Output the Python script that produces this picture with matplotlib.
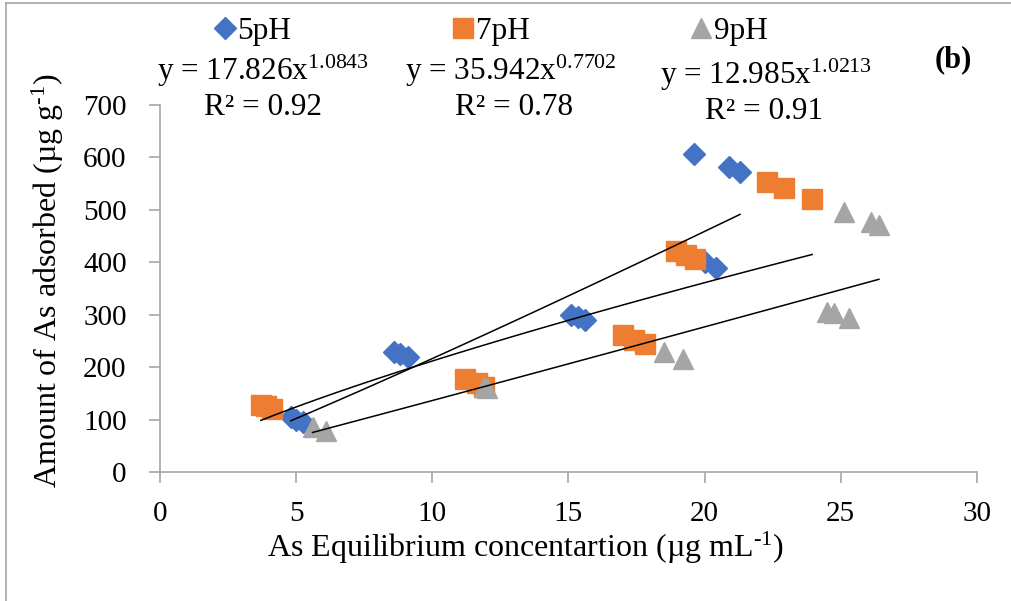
import numpy as np
import matplotlib.pyplot as plt
from matplotlib.lines import Line2D

plt.rcParams['font.family'] = ['Liberation Serif', 'DejaVu Serif']
plt.rcParams['mathtext.fontset'] = 'custom'
plt.rcParams['mathtext.rm'] = 'Liberation Serif'
plt.rcParams['mathtext.it'] = 'Liberation Serif:italic'

# data
x_5 = [4.8, 5.0, 5.25, 8.6, 8.8, 9.1, 15.1, 15.35, 15.6, 19.6, 20.0, 20.4, 20.9, 21.3]
y_5 = [104, 100, 96, 229, 225, 219, 299, 295, 289, 607, 400, 390, 581, 573]
x_7 = [3.7, 3.9, 4.1, 11.2, 11.65, 11.9, 17.0, 17.4, 17.8, 18.95, 19.3, 19.65, 22.3, 22.9, 23.95]
y_7 = [128, 125, 121, 178, 170, 163, 261, 252, 244, 421, 413, 407, 554, 542, 521]
x_9 = [5.6, 6.1, 11.9, 12.0, 18.5, 19.2, 24.5, 24.75, 25.3, 25.1, 26.1, 26.4]
y_9 = [85, 78, 162, 160, 229, 215, 305, 303, 293, 496, 476, 471]

# power trendlines y = a*x^b
fit_a = [17.826, 35.942, 12.985]
fit_b = [1.0843, 0.7702, 1.0213]
eq_text = ['y = 17.826x$^{1.0843}$', 'y = 35.942x$^{0.7702}$', 'y = 12.985x$^{1.0213}$']
r2_text = ['R² = 0.92', 'R² = 0.78', 'R² = 0.91']

colors = ['#4472C4', '#ED7D31', '#A5A5A5']
labels = ['5pH', '7pH', '9pH']
markers = ['D', 's', '^']
sizes = [11, 14, 15]

fig = plt.figure(figsize=(10.11, 6.01), dpi=100)
ax = fig.add_axes([0.1583, 0.2146, 0.808, 0.6107])

xs = [x_5, x_7, x_9]
ys = [y_5, y_7, y_9]
for i in range(3):
    ax.plot(xs[i], ys[i], linestyle='none', marker=markers[i], color=colors[i],
            markersize=sizes[i], label=labels[i], zorder=2)
for i in range(3):
    xx = np.linspace(min(xs[i]), max(xs[i]), 50)
    ax.plot(xx, fit_a[i] * xx ** fit_b[i], color='black', linewidth=1.1, zorder=3)

ax.set_xlim(0, 30)
ax.set_ylim(0, 700)
ax.set_xticks(np.arange(0, 31, 5))
ax.set_yticks(np.arange(0, 701, 100))
for s in ['top', 'right']:
    ax.spines[s].set_visible(False)
for s in ['left', 'bottom']:
    ax.spines[s].set_color('#A6A6A6')
    ax.spines[s].set_linewidth(1.2)
ax.tick_params(axis='both', colors='#A6A6A6', length=8, width=1.2, labelsize=21, labelcolor='black')
ax.tick_params(axis='y', pad=16)
ax.tick_params(axis='x', pad=13)

ax.set_xlabel(r'As Equilibrium concentartion (µg mL$^{\text{-}1}$)', fontsize=23)
ax.set_ylabel(r'Amount of As adsorbed (µg g$^{\text{-}1}$)', fontsize=23)
ax.xaxis.set_label_coords(0.4468, -0.158)
ax.yaxis.set_label_coords(-0.115, 0.52)

leg = fig.legend(loc='center left', bbox_to_anchor=(212.5 / 1011, 0.947), ncol=3, frameon=False,
                 fontsize=22.5, handlelength=0.8, handletextpad=0.0, columnspacing=5.1,
                 borderpad=0, borderaxespad=0)

eq_x = [263, 511, 766]
eq_y = [71, 71, 75]
r2_x = [263, 514, 764]
r2_y = [107, 107, 111]
for i in range(3):
    fig.text(eq_x[i] / 1011, 1 - eq_y[i] / 601, eq_text[i], fontsize=22.5, ha='center', va='center')
    fig.text(r2_x[i] / 1011, 1 - r2_y[i] / 601, r2_text[i], fontsize=22.5, ha='center', va='center')
fig.text(953 / 1011, 1 - 60 / 601, '(b)', fontsize=22, fontweight='bold', ha='center', va='center')

# chart area border (left and top visible)
fig.add_artist(Line2D([0.006, 0.006], [0, 0.995], transform=fig.transFigure, color='#A6A6A6', linewidth=1.2))
fig.add_artist(Line2D([0.006, 1.0], [0.995, 0.995], transform=fig.transFigure, color='#A6A6A6', linewidth=1.2))

plt.savefig('out.png', dpi=100)
